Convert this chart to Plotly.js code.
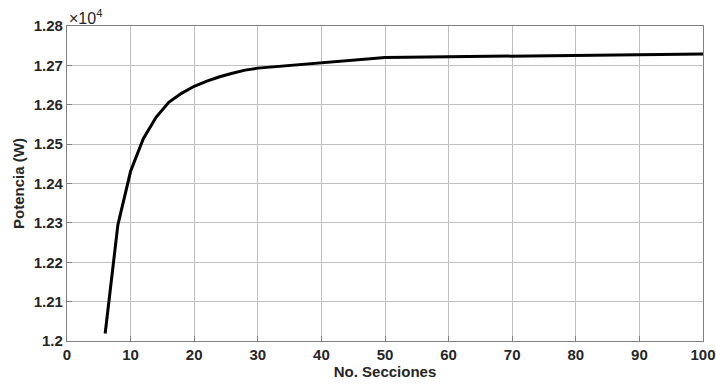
<!DOCTYPE html>
<html>
<head>
<meta charset="utf-8">
<script src="https://cdn.plot.ly/plotly-3.0.1.min.js"></script>
<style>
html,body{margin:0;padding:0;background:#fff;}
#chart{width:716px;height:389px;}
#chart .modebar-container, #chart .modebar {display:none !important;}
#chart .xtick text, #chart .ytick text {font-weight:700 !important;}
</style>
</head>
<body>
<div id="chart"></div>
<script>
const secciones = [6, 8, 10, 12, 14, 16, 18, 20, 22, 24, 26, 28, 30, 50, 100];
const potenciaW = [12019, 12295, 12431, 12514, 12568, 12606, 12629, 12647, 12660, 12671, 12680, 12688, 12693, 12720, 12729];
const xTicks = [0, 10, 20, 30, 40, 50, 60, 70, 80, 90, 100];
const yTicks = [1.2, 1.21, 1.22, 1.23, 1.24, 1.25, 1.26, 1.27, 1.28];
const yTickLabels = ['1.2', '1.21', '1.22', '1.23', '1.24', '1.25', '1.26', '1.27', '1.28'];
const scale = 1e4;

const fontFam = 'Arial, "Liberation Sans", sans-serif';

Plotly.newPlot('chart', [{
  x: secciones,
  y: potenciaW.map(v => v / scale),
  type: 'scatter', mode: 'lines',
  line: {color: '#000000', width: 3},
  hoverinfo: 'skip'
}], {
  width: 716, height: 389,
  margin: {l: 67, r: 13, t: 26, b: 48},
  paper_bgcolor: '#ffffff', plot_bgcolor: '#ffffff',
  showlegend: false,
  font: {family: fontFam, size: 15, color: '#262626'},
  xaxis: {
    showgrid: true, gridcolor: '#c0c0c0', gridwidth: 1,
    showline: true, linecolor: '#808080', linewidth: 1.2, mirror: true,
    ticks: 'inside', ticklen: 5, tickcolor: '#808080', zeroline: false,
    tickfont: {family: fontFam, size: 15, color: '#262626', weight: 'bold'},
    range: [0, 100], tickmode: 'array', tickvals: xTicks, ticktext: xTicks.map(String),
    title: {text: 'No. Secciones', font: {family: fontFam, size: 15, color: '#262626', weight: 'bold'}, standoff: 3}
  },
  yaxis: {
    showgrid: true, gridcolor: '#c0c0c0', gridwidth: 1,
    showline: true, linecolor: '#808080', linewidth: 1.2, mirror: true,
    ticks: 'inside', ticklen: 5, tickcolor: '#808080', zeroline: false,
    tickfont: {family: fontFam, size: 15, color: '#262626', weight: 'bold'},
    range: [1.2, 1.28], tickmode: 'array', tickvals: yTicks, ticktext: yTickLabels,
    title: {text: 'Potencia (W)', font: {family: fontFam, size: 15, color: '#262626', weight: 'bold'}, standoff: 5}
  },
  annotations: [{
    xref: 'paper', yref: 'paper', x: 0, y: 1, xanchor: 'left', yanchor: 'bottom',
    text: '×10<sup>4</sup>', showarrow: false, xshift: 0, yshift: -3,
    font: {family: fontFam, size: 16, color: '#262626'}
  }]
}).then(function (gd) {
  gd.querySelectorAll('.xtick text, .ytick text').forEach(function (t) {
    t.style.fontWeight = '700';
    t.setAttribute('font-weight', '700');
  });
});
</script>
</body>
</html>
